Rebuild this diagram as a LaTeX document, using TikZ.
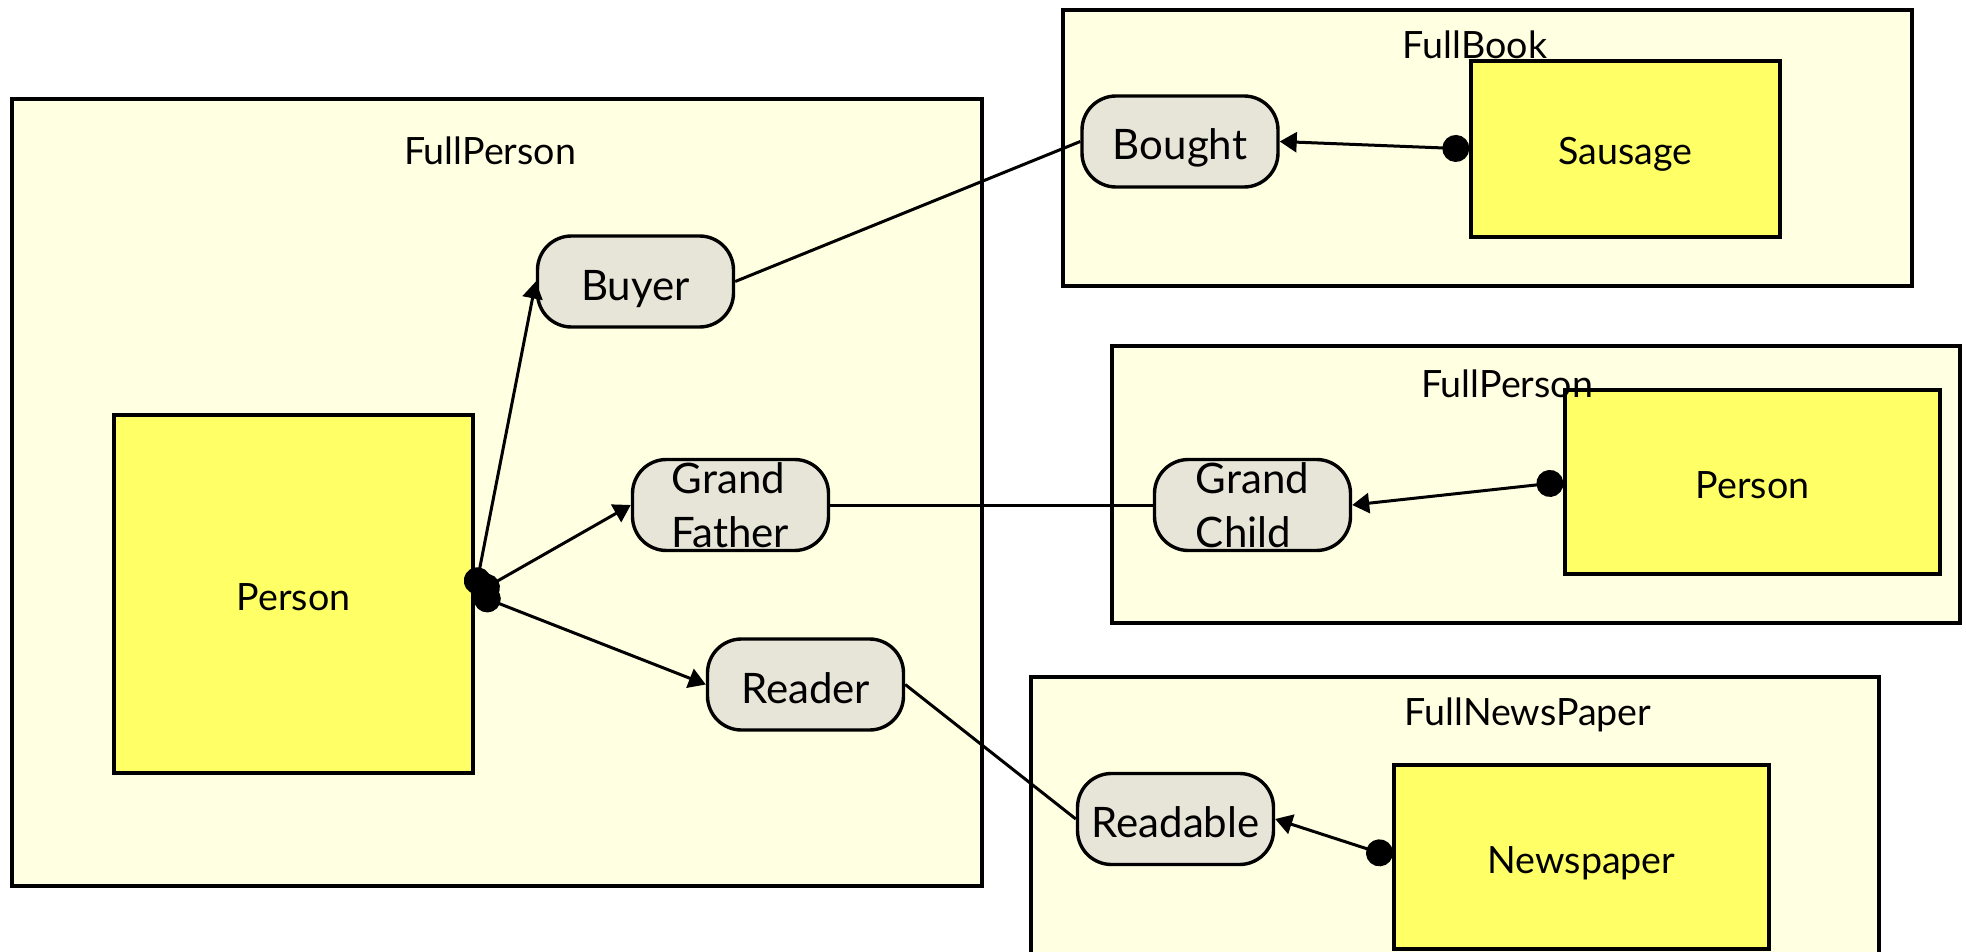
\documentclass[tikz,border=0pt]{standalone}
\usepackage{fontspec}
\setmainfont{Lato}
\usetikzlibrary{arrows.meta}
\definecolor{frameyellow}{RGB}{255,255,226}
\definecolor{classyellow}{RGB}{255,255,102}
\definecolor{rolegray}{RGB}{231,229,216}
\begin{document}
\begin{tikzpicture}[x=0.5pt,y=-0.5pt,
	frame/.style={draw,line width=1.9pt,fill=frameyellow},
	cls/.style={draw,line width=1.7pt,fill=classyellow,inner sep=0pt,text height=16pt,text depth=0pt,font=\fontsize{18.8}{22}\selectfont},
	role/.style={draw,line width=1.7pt,fill=rolegray,rounded corners=17pt,inner sep=0pt,minimum width=98pt,minimum height=45.5pt,text height=18.5pt,text depth=0pt,font=\fontsize{21}{27}\selectfont},
	tworole/.style={role,align=left,text height=,text depth=},
	ttl/.style={anchor=base,inner sep=0pt,font=\fontsize{18.8}{22}\selectfont},
	hasrole/.style={line width=1.5pt,{Circle[length=13.5pt]}-{Triangle[length=8.5pt,width=10pt]}},
	link/.style={line width=1.5pt}]
			\useasboundingbox (0,0) rectangle (1966,952);
			\clip (0,0) rectangle (1966,952);
			\draw[frame] (12,99) rectangle (982,886);
			\draw[frame] (1063,10) rectangle (1912,286);
			\draw[frame] (1112,346) rectangle (1960,623);
			\draw[frame] (1031,677) rectangle (1879,990);
			\node[cls,minimum width=179.5pt,minimum height=179pt] (Person1) at (293.5,594) {Person};
			\node[cls,minimum width=154.5pt,minimum height=88pt] (Sausage) at (1625.5,149) {Sausage};
			\node[cls,minimum width=187.5pt,minimum height=92pt] (Person2) at (1752.5,482) {Person};
			\node[cls,minimum width=187.5pt,minimum height=92pt] (Newspaper) at (1581.5,857) {Newspaper};
			\node[role] (Buyer) at (635.5,281.5) {Buyer};
			\node[tworole] (GFather) at (730.5,505) {Grand\\Father};
			\node[role] (Reader) at (805.5,684.5) {Reader};
			\node[role] (Bought) at (1180,141.5) {Bought};
			\node[tworole] (GChild) at (1252.5,505) {Grand\\Child};
			\node[role] (Readable) at (1175.5,819) {Readable};
			\node[ttl] (TPerson1) at (490,165) {FullPerson};
			\node[ttl] (TBook) at (1475,59) {FullBook};
			\node[ttl] (TPerson2) at (1507,397) {FullPerson};
			\node[ttl] (TNews) at (1528,725) {FullNewsPaper};
			\draw[hasrole] (Person1.east) -- (Buyer.west);
			\draw[hasrole] (Person1.east) -- (GFather.west);
			\draw[hasrole] (Person1.east) -- (Reader.west);
			\draw[hasrole] (Sausage.west) -- (Bought.east);
			\draw[hasrole] (Person2.west) -- (GChild.east);
			\draw[hasrole] (Newspaper.west) -- (Readable.east);
			\draw[link] (Buyer.east) -- (Bought.west);
			\draw[link] (GFather.east) -- (GChild.west);
			\draw[link] (Reader.east) -- (Readable.west);
		\end{tikzpicture}
\end{document}
